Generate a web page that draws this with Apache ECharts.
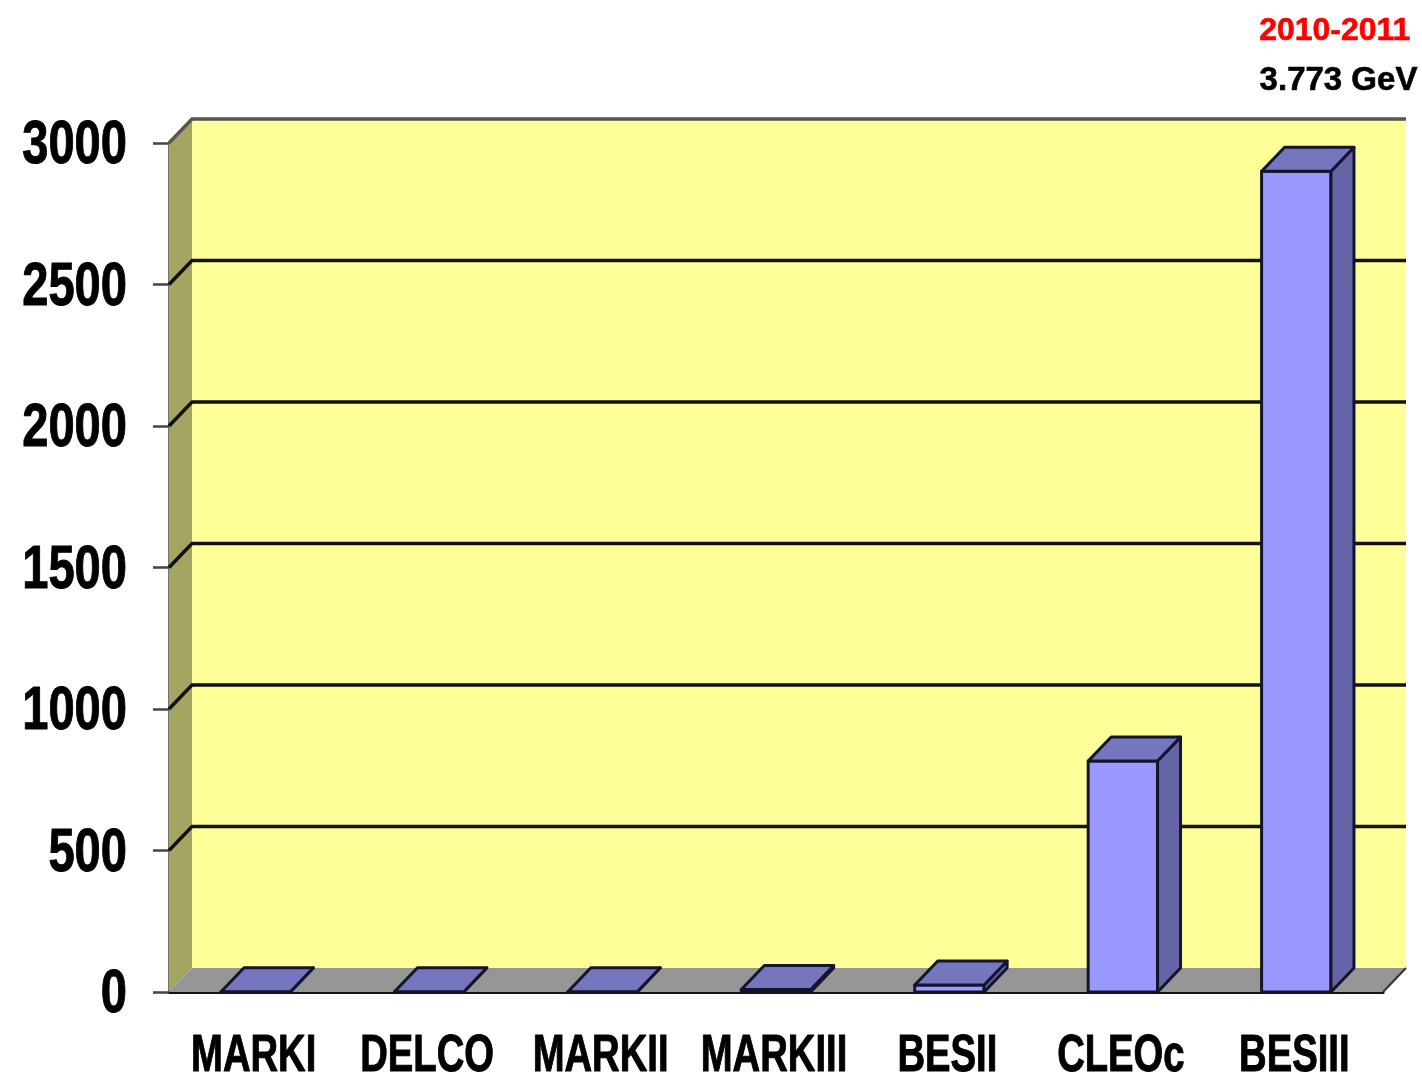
<!DOCTYPE html>
<html>
<head>
<meta charset="utf-8">
<title>3.773 GeV</title>
<script src="https://cdn.jsdelivr.net/npm/echarts@6/dist/echarts.min.js"></script>
<style>
    html, body { margin: 0; padding: 0; background: #fff; }
    #chart { width: 1422px; height: 1087px; filter: blur(0.6px); }
</style>
</head>
<body>
<div id="chart"></div>
<script>
const experiments = ["MARKI", "DELCO", "MARKII", "MARKIII", "BESII", "CLEOc", "BESIII"];
const luminosity = [1, 1, 1, 9, 25, 816, 2900];
const yTicks = [0, 500, 1000, 1500, 2000, 2500, 3000];
const gridLevels = [500, 1000, 1500, 2000, 2500, 3000];
const periodLabel = "2010-2011";
const energyLabel = "3.773 GeV";

// depth of the fake 3D box, in pixels
const DX = 23;
const DY = 24;
const BAR_RATIO = 0.4;
const EDGE = "#14142e";
const LABEL_FONT = "Liberation Sans";

function polygon(points, fill, stroke, lineWidth) {
    return {
        type: "polygon",
        shape: { points },
        style: { fill, stroke: stroke || "none", lineWidth: lineWidth || 0, lineJoin: "round" },
    };
}

function renderWalls(params, api) {
    const c = params.coordSys;
    const left = c.x, right = c.x + c.width, top = c.y, bottom = c.y + c.height;
    return {
        type: "group",
        children: [
            polygon([[left + DX, top - DY], [right + DX, top - DY], [right + DX, bottom - DY], [left + DX, bottom - DY]], "#ffff99"),
            polygon([[left, top], [left + DX, top - DY], [left + DX, bottom - DY], [left, bottom]], "#a5a562"),
            polygon([[left, bottom], [left + DX, bottom - DY], [right + DX, bottom - DY], [right, bottom]], "#969696"),
            {
                type: "line",
                shape: { x1: right, y1: bottom, x2: right + DX, y2: bottom - DY },
                style: { stroke: "#333", lineWidth: 2 },
            },
        ],
    };
}

function renderGridLine(params, api) {
    const c = params.coordSys;
    const y = api.coord([0, api.value(0)])[1];
    const isTop = api.value(0) === gridLevels[gridLevels.length - 1];
    const color = isTop ? "#555" : "#111";
    return {
        type: "polyline",
        shape: { points: [[c.x, y], [c.x + DX, y - DY], [c.x + c.width + DX, y - DY]] },
        style: { stroke: color, lineWidth: 3.5, fill: "none" },
    };
}

function renderBar(params, api) {
    const center = api.coord([api.value(0), 0])[0];
    const w = api.size([1, 0])[0] * BAR_RATIO;
    const x0 = center - w / 2, x1 = center + w / 2;
    const y0 = api.coord([0, 0])[1];
    const y1 = api.coord([0, api.value(1)])[1];
    return {
        type: "group",
        children: [
            polygon([[x0, y0], [x1, y0], [x1, y1], [x0, y1]], "#9999ff", EDGE, 3),
            polygon([[x1, y0], [x1 + DX, y0 - DY], [x1 + DX, y1 - DY], [x1, y1]], "#6464a6", EDGE, 3),
            polygon([[x0, y1], [x0 + DX, y1 - DY], [x1 + DX, y1 - DY], [x1, y1]], "#7676bf", EDGE, 3),
        ],
    };
}

// the original labels are a condensed bold face, so squeeze the bold sans
function condensedText(text, x, y, fontSize, scaleX, align) {
    return {
        type: "text",
        x,
        y,
        scaleX,
        style: {
            text,
            x: 0,
            y: 0,
            fill: "#000",
            stroke: "#000",
            lineWidth: 1,
            font: `bold ${fontSize}px "${LABEL_FONT}"`,
            textAlign: align,
            textVerticalAlign: "middle",
        },
    };
}

function renderYLabel(params, api) {
    const v = api.value(0);
    const c = params.coordSys;
    return condensedText(String(v), c.x - 42, api.coord([0, v])[1] + 3, 62, 0.76, "right");
}

function renderXLabel(params, api) {
    const i = api.value(0);
    const c = params.coordSys;
    return condensedText(experiments[i], api.coord([i, 0])[0] - 2, c.y + c.height + 65, 52, 0.735, "center");
}

function bootstrap() {
    const chart = echarts.init(document.getElementById("chart"), null, { renderer: "canvas" });
    chart.setOption({
        animation: false,
        backgroundColor: "#fff",
        title: [
            {
                text: periodLabel,
                right: 6,
                top: 10,
                textStyle: {
                    color: "#ff0000",
                    fontFamily: LABEL_FONT,
                    fontWeight: "bold",
                    fontSize: 32,
                    textBorderColor: "#ff0000",
                    textBorderWidth: 0.6,
                },
            },
            {
                text: energyLabel,
                right: -1,
                top: 59,
                textStyle: {
                    color: "#000",
                    fontFamily: LABEL_FONT,
                    fontWeight: "bold",
                    fontSize: 33,
                    textBorderColor: "#000",
                    textBorderWidth: 0.6,
                },
            },
        ],
        grid: { left: 169, top: 143, width: 1214, height: 849, outerBoundsMode: "none" },
        xAxis: {
            type: "category",
            data: experiments,
            axisLine: { lineStyle: { color: "#111", width: 3 } },
            axisTick: { length: 18, lineStyle: { color: "#444", width: 2 } },
            axisLabel: { show: false },
        },
        yAxis: {
            type: "value",
            min: 0,
            max: 3000,
            interval: 500,
            axisLine: { show: true, lineStyle: { color: "#444", width: 2.5 } },
            axisTick: { show: true, length: 16, lineStyle: { color: "#444", width: 2.5 } },
            axisLabel: { show: false },
            splitLine: { show: false },
        },
        series: [
            { type: "custom", z: 1, silent: true, clip: false, data: [0], renderItem: renderWalls },
            { type: "custom", z: 2, silent: true, clip: false, data: gridLevels.map((v) => [v]), renderItem: renderGridLine, encode: { y: 0 } },
            {
                type: "custom",
                z: 5,
                silent: true,
                clip: false,
                data: luminosity.map((v, i) => [i, v]),
                renderItem: renderBar,
                encode: { x: 0, y: 1 },
            },
            { type: "custom", z: 6, silent: true, clip: false, data: yTicks.map((v) => [v]), renderItem: renderYLabel, encode: { y: 0 } },
            { type: "custom", z: 6, silent: true, clip: false, data: experiments.map((_, i) => [i]), renderItem: renderXLabel, encode: { x: 0 } },
        ],
    });
}

window.addEventListener("load", bootstrap);
</script>
</body>
</html>
